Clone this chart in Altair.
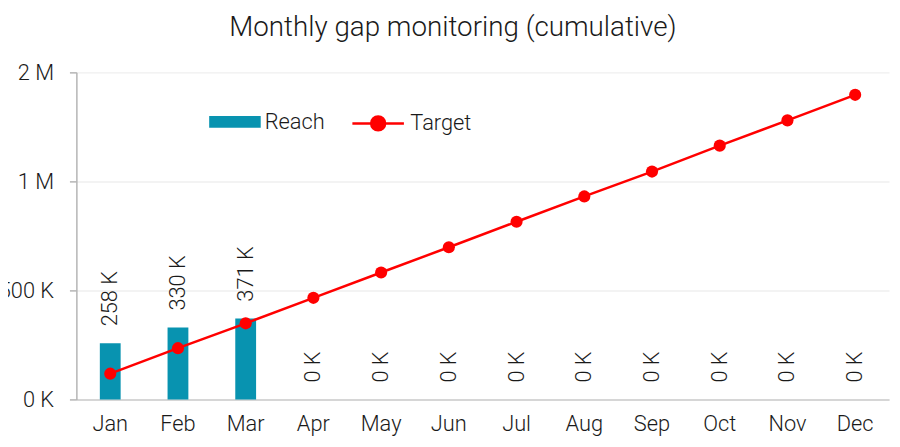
import altair as alt
import pandas as pd

months = ["Jan", "Feb", "Mar", "Apr", "May", "Jun", "Jul", "Aug", "Sep", "Oct", "Nov", "Dec"]
reach = [258000, 330000, 371000, 0, 0, 0, 0, 0, 0, 0, 0, 0]
target = [118000, 235000, 349000, 466000, 582000, 698000, 815000, 931000, 1045000, 1164000, 1280000, 1397000]
y_ticks = [0, 500000, 1000000, 1500000]

df = pd.DataFrame({
    "month": months,
    "reach": reach,
    "target": target,
})
df["label"] = [f"{round(v / 1000)} K" for v in reach]
df["s_reach"] = "Reach"
df["s_target"] = "Target"

FONT = "Roboto"
W = 300
TEAL = "#0893b0"
RED = "#ff0000"
INK = "#1a1a1a"

x = alt.X(
    "month:N",
    sort=months,
    title=None,
    scale=alt.Scale(paddingInner=0.69, paddingOuter=0.345),
    axis=alt.Axis(
        labelAngle=0, ticks=False, labelPadding=14, labelFontSize=22,
        labelColor=INK, domainColor="#d6d6d6", domainWidth=2, grid=False,
        labelFont=FONT, labelFontWeight=W,
    ),
)
y_scale = alt.Scale(domain=[0, 1500000], nice=False)

base = alt.Chart(df)

bars = base.mark_bar(size=21).encode(
    x=x,
    y=alt.Y(
        "reach:Q",
        scale=y_scale,
        title=None,
        axis=alt.Axis(
            values=y_ticks,
            labelExpr="datum.value >= 1000000 ? format(datum.value / 1000000, '.0f') + ' M' : format(datum.value / 1000, '.0f') + ' K'",
            labelFontSize=22, labelColor=INK, labelFont=FONT, labelFontWeight=W, labelPadding=16,
            tickSize=7, tickColor="#b4b4b4", tickWidth=1.5,
            domainColor="#b4b4b4", domainWidth=1.5,
            gridColor="#efefef", gridWidth=1.5,
        ),
    ),
    fill=alt.Fill(
        "s_reach:N", title=None,
        scale=alt.Scale(domain=["Reach"], range=[TEAL]),
        legend=alt.Legend(
            orient="none", legendX=134, legendY=24, padding=0,
            symbolType="M-1,-0.23H1V0.23H-1Z", symbolSize=2704, symbolStrokeWidth=0,
            symbolFillColor=TEAL, symbolOpacity=1,
            labelFontSize=22, labelFont=FONT, labelFontWeight=W, labelColor=INK, labelOffset=4,
        ),
    ),
)

labels = base.mark_text(
    angle=270, align="left", baseline="middle", dx=17, fontSize=22, font=FONT,
    fontWeight=W, color=INK,
).encode(
    x=alt.X("month:N", sort=months),
    y=alt.Y("reach:Q", scale=y_scale),
    text="label:N",
)

line = base.mark_line(strokeWidth=2.5).encode(
    x=alt.X("month:N", sort=months),
    y=alt.Y("target:Q", scale=y_scale),
    stroke=alt.Stroke(
        "s_target:N", title=None,
        scale=alt.Scale(domain=["Target"], range=[RED]),
        legend=alt.Legend(
            orient="none", legendX=277, legendY=24, padding=0,
            symbolType="M-1,0L1,0M0.27,0A0.27,0.27,0,1,1,-0.27,0A0.27,0.27,0,1,1,0.27,0Z",
            symbolSize=2704, symbolStrokeWidth=2.5, symbolFillColor=RED,
            symbolStrokeColor=RED, symbolOpacity=1,
            labelFontSize=22, labelFont=FONT, labelFontWeight=W, labelColor=INK, labelOffset=5,
        ),
    ),
)

points = base.mark_circle(size=150, color=RED, opacity=1).encode(
    x=alt.X("month:N", sort=months),
    y=alt.Y("target:Q", scale=y_scale),
)

chart = alt.layer(bars, labels, line, points).resolve_scale(
    fill="independent", stroke="independent"
).properties(
    width=820,
    height=330,
    title=alt.TitleParams(
        "Monthly gap monitoring (cumulative)", fontSize=28, font=FONT, fontWeight=W,
        color=INK, anchor="middle", frame="group", offset=20, dx=-30,
    ),
    autosize=alt.AutoSizeParams(type="none"),
    padding={"left": 69, "top": 63, "right": 3, "bottom": 40},
).configure_view(stroke=None)

chart.save("out.html", embed_options={"renderer": "svg", "actions": False})
